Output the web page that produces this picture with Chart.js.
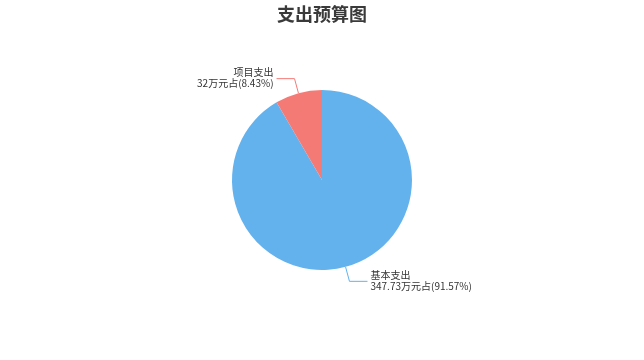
<!DOCTYPE html>
<html>
<head>
<meta charset="utf-8">
<script src="https://cdn.jsdelivr.net/npm/chart.js@4/dist/chart.umd.min.js"></script>
<style>
  body { margin: 0; background: #fff; }
  #wrap { width: 644px; height: 360px; }
</style>
</head>
<body>
<div id="wrap"><canvas id="myChart" width="644" height="360"></canvas></div>
<script>
var titleText = "支出预算图"
var labels = ["基本支出", "项目支出"]
var values = [347.73, 32]
var percents = ["91.57%", "8.43%"]
var colors = ["#63b2ee", "#f47a75"]

var font = '"Noto Sans CJK SC", "Noto Sans", sans-serif'

// title + leader line labels
var pieLabels = {
  id: "pieLabels",
  afterDraw: function(chart){
    var ctx = chart.ctx
    ctx.save()
    ctx.fillStyle = "#3a3a3a"
    ctx.font = "bold 18px " + font
    ctx.textAlign = "center"
    ctx.textBaseline = "middle"
    ctx.fillText(titleText, chart.width / 2, 14)

    var meta = chart.getDatasetMeta(0)
    meta.data.forEach(function(arc, i){
      var p = arc.getProps(["x", "y", "startAngle", "endAngle", "outerRadius"], true)
      var mid = (p.startAngle + p.endAngle) / 2
      var cos = Math.cos(mid), sin = Math.sin(mid)
      var x0 = p.x + cos * p.outerRadius
      var y0 = p.y + sin * p.outerRadius
      var x1 = p.x + cos * (p.outerRadius + 15)
      var y1 = p.y + sin * (p.outerRadius + 15)
      var dir = cos >= 0 ? 1 : -1
      var x2 = x1 + dir * 18
      ctx.strokeStyle = colors[i]
      ctx.lineWidth = 1
      ctx.beginPath()
      ctx.moveTo(x0, y0)
      ctx.lineTo(x1, y1)
      ctx.lineTo(x2, y1)
      ctx.stroke()

      ctx.fillStyle = "#333"
      ctx.font = "10px " + font
      ctx.textAlign = dir > 0 ? "left" : "right"
      ctx.textBaseline = "middle"
      var tx = x2 + dir * 3
      ctx.fillText(labels[i], tx, y1 - 6)
      ctx.fillText(values[i] + "万元占(" + percents[i] + ")", tx, y1 + 5)
    })
    ctx.restore()
  }
}

new Chart("myChart", {
  type: "pie",
  data: {
    labels: labels,
    datasets: [{
      data: values,
      backgroundColor: colors,
      borderWidth: 0,
      hoverOffset: 0
    }]
  },
  options: {
    responsive: false,
    animation: false,
    layout: { padding: { top: 90, bottom: 90, left: 0, right: 0 } },
    plugins: {
      legend: { display: false },
      title: { display: false },
      tooltip: { enabled: false }
    }
  },
  plugins: [pieLabels]
})
</script>
</body>
</html>
